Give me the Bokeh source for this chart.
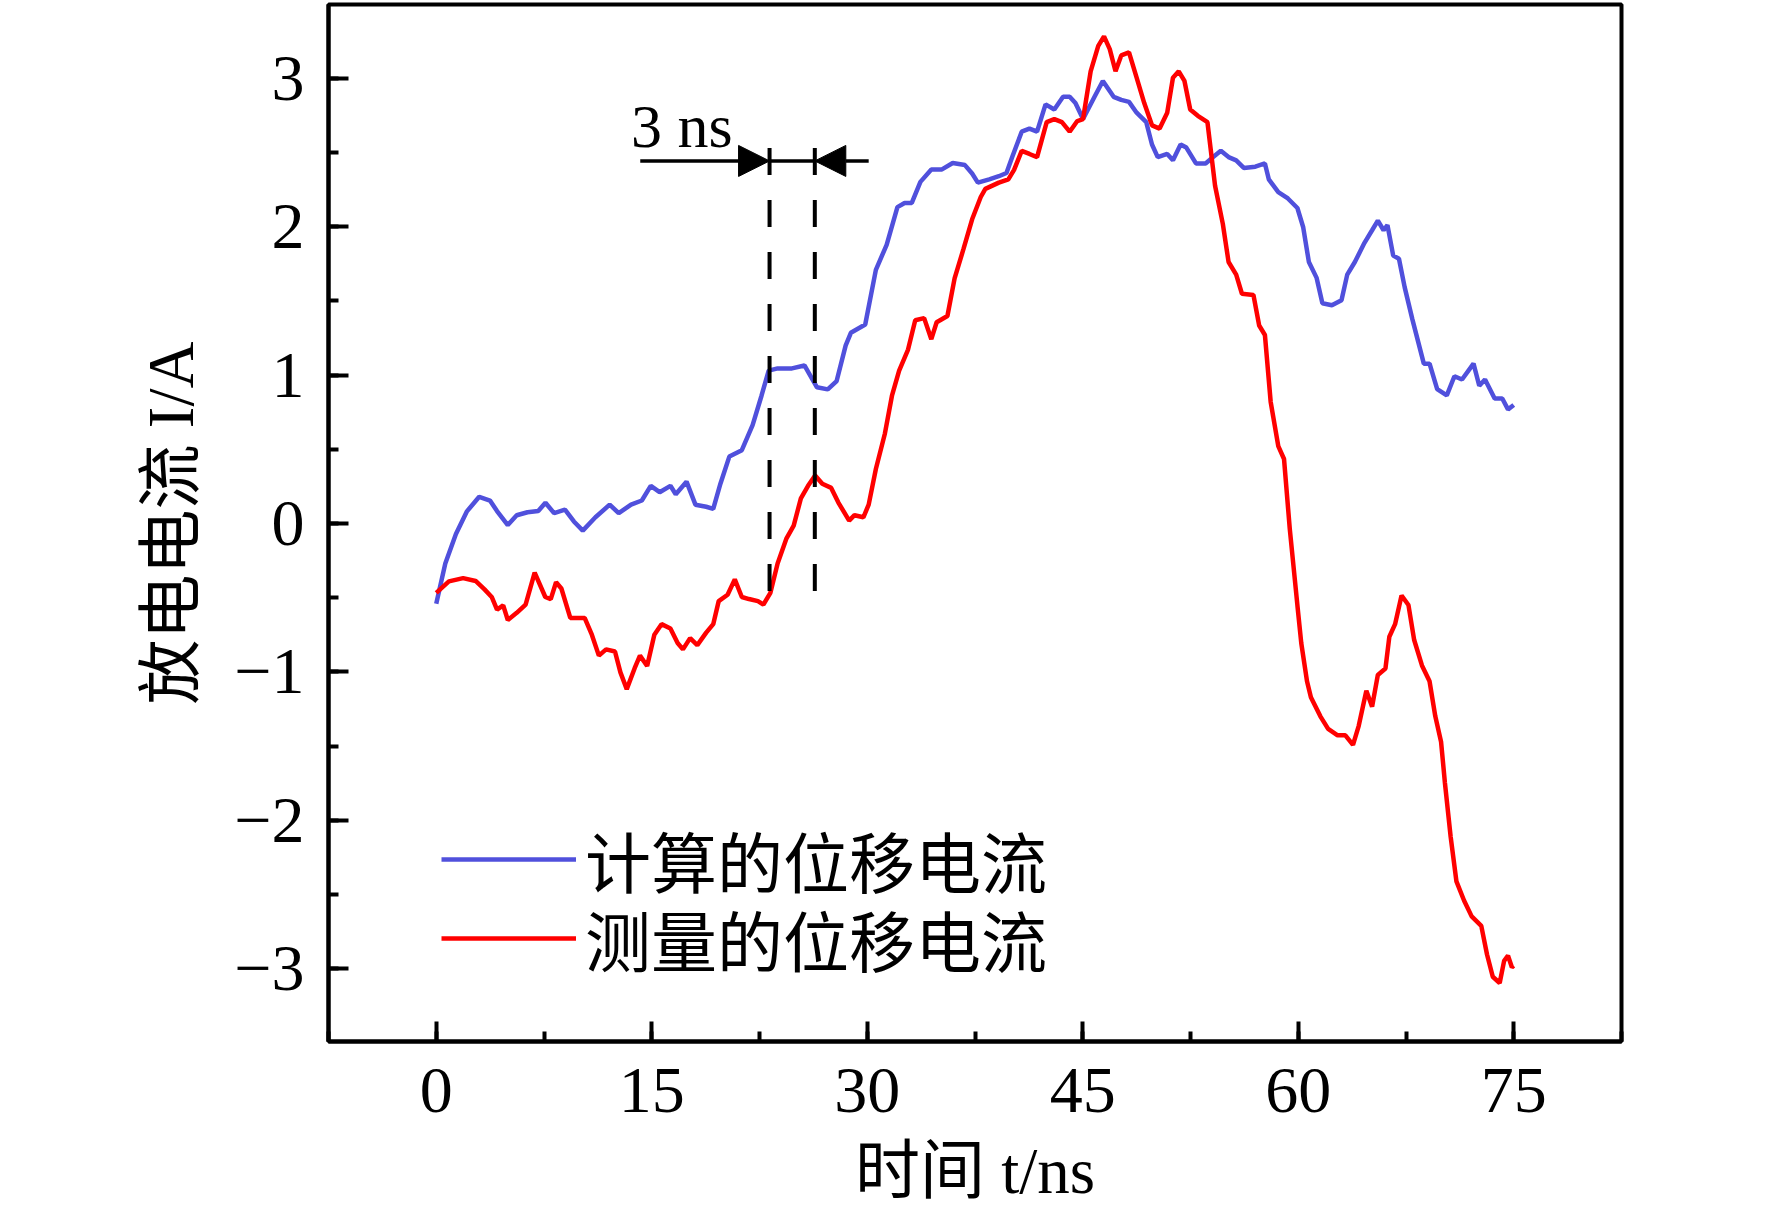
from bokeh.plotting import figure
from bokeh.models import (ColumnDataSource, Range1d, SingleIntervalTicker, Label,
                          Legend, LegendItem, Arrow, NormalHead)
from bokeh.embed import file_html
from bokeh.resources import INLINE

# ---------------- data ----------------
calc_t = [0, 0.63, 1.37, 2.12, 2.99, 3.74, 4.23, 4.98, 5.6, 6.35, 7.1, 7.6, 8.2, 8.96, 9.58,
          10.2, 11.08, 12.07, 12.7, 13.56, 14.31, 14.93, 15.55, 16.3, 16.67, 17.42, 18.04,
          18.79, 19.28, 19.78, 20.4, 21.27, 22.02, 22.64, 23.14, 23.76, 24.76, 25.63, 26.5,
          27.25, 27.87, 28.5, 28.86, 29.86, 30.6, 31.35, 32.1, 32.6, 33.1, 33.7, 34.46, 35.2,
          35.95, 36.8, 37.3, 37.7, 38.49, 39.16, 39.69, 40.09, 40.75, 41.29, 41.82, 42.41,
          43.02, 43.63, 44.09, 44.49, 45.02, 45.82, 46.4, 47.15, 47.68, 48.22, 48.75, 49.42,
          49.82, 50.22, 50.88, 51.28, 51.81, 52.21, 52.88, 53.55, 54.08, 54.61, 55.15, 55.68,
          56.21, 57.01, 57.68, 57.95, 58.61, 59.28, 59.94, 60.34, 60.74, 61.28, 61.68, 62.34,
          63.01, 63.41, 63.94, 64.61, 65.14, 65.54, 65.94, 66.21, 66.61, 67.01, 67.41, 67.94,
          68.34, 68.74, 69.14, 69.67, 70.34, 70.87, 71.4, 72.2, 72.6, 73.0, 73.67, 74.2,
          74.6, 75.0]
calc_i = [-0.54, -0.27, -0.07, 0.08, 0.18, 0.155, 0.084, -0.01, 0.056, 0.076, 0.084, 0.14,
          0.07, 0.093, 0.014, -0.048, 0.042, 0.127, 0.07, 0.127, 0.155, 0.254, 0.211, 0.254,
          0.197, 0.282, 0.127, 0.113, 0.099, 0.268, 0.451, 0.494, 0.663, 0.861, 1.03, 1.045,
          1.045, 1.065, 0.918, 0.904, 0.96, 1.2, 1.285, 1.341, 1.709, 1.878, 2.132, 2.16,
          2.16, 2.302, 2.386, 2.386, 2.429, 2.415, 2.358, 2.297, 2.319, 2.34, 2.362, 2.469,
          2.64, 2.661, 2.64, 2.824, 2.79, 2.875, 2.875, 2.833, 2.725, 2.875, 2.982, 2.875,
          2.854, 2.841, 2.768, 2.704, 2.554, 2.469, 2.49, 2.447, 2.554, 2.533, 2.426, 2.426,
          2.469, 2.511, 2.469, 2.447, 2.396, 2.404, 2.426, 2.319, 2.233, 2.19, 2.126, 1.998,
          1.762, 1.655, 1.484, 1.471, 1.505, 1.677, 1.762, 1.891, 1.976, 2.041, 1.976, 2.011,
          1.805, 1.784, 1.591, 1.377, 1.227, 1.077, 1.077, 0.906, 0.863, 0.992, 0.97, 1.077,
          0.928, 0.97, 0.842, 0.842, 0.769, 0.799]

meas_t = [0, 0.88, 1.87, 2.74, 3.36, 3.86, 4.23, 4.66, 4.98, 5.6, 6.22, 6.85, 7.59, 7.97,
          8.34, 8.71, 9.33, 9.83, 10.33, 10.83, 11.32, 11.82, 12.44, 12.82, 13.26, 13.81,
          14.18, 14.68, 15.18, 15.68, 16.3, 16.8, 17.17, 17.67, 18.17, 18.79, 19.28, 19.66,
          20.28, 20.78, 21.27, 21.77, 22.39, 22.77, 23.26, 23.76, 24.38, 24.88, 25.38, 25.88,
          26.37, 26.87, 27.49, 27.99, 28.74, 29.11, 29.73, 30.1, 30.6, 31.23, 31.72, 32.22,
          32.84, 33.34, 33.96, 34.46, 34.83, 35.58, 36.08, 36.7, 37.3, 37.9, 38.22, 39.16,
          39.82, 40.22, 40.75, 41.29, 41.82, 42.49, 43.02, 43.55, 44.09, 44.62, 45.02, 45.55,
          46.08, 46.48, 46.88, 47.28, 47.68, 48.22, 48.75, 49.28, 49.82, 50.35, 50.88, 51.28,
          51.68, 52.08, 52.48, 53.01, 53.68, 54.21, 54.75, 55.15, 55.68, 56.08, 56.88, 57.28,
          57.68, 58.08, 58.61, 59.01, 59.41, 59.94, 60.21, 60.61, 60.88, 61.54, 62.08, 62.74,
          63.28, 63.81, 64.21, 64.74, 65.14, 65.54, 66.07, 66.34, 66.74, 67.19, 67.67, 68.07,
          68.61, 69.14, 69.54, 69.94, 70.21, 70.61, 71.01, 71.54, 72.07, 72.74, 73.14, 73.54,
          74.02, 74.33, 74.6, 74.87, 75.0]
meas_i = [-0.467, -0.39, -0.368, -0.387, -0.444, -0.495, -0.58, -0.551, -0.65, -0.602,
          -0.546, -0.331, -0.495, -0.509, -0.396, -0.438, -0.636, -0.636, -0.636, -0.749,
          -0.89, -0.848, -0.862, -1.003, -1.116, -0.975, -0.89, -0.96, -0.749, -0.678, -0.707,
          -0.805, -0.848, -0.772, -0.819, -0.735, -0.678, -0.523, -0.48, -0.376, -0.495,
          -0.509, -0.523, -0.546, -0.467, -0.269, -0.1, -0.014, 0.169, 0.254, 0.324, 0.268,
          0.24, 0.141, 0.02, 0.056, 0.042, 0.127, 0.367, 0.607, 0.861, 1.03, 1.172, 1.37,
          1.384, 1.242, 1.356, 1.398, 1.652, 1.85, 2.05, 2.2, 2.255, 2.297, 2.319, 2.383,
          2.511, 2.49, 2.469, 2.704, 2.725, 2.704, 2.64, 2.712, 2.725, 3.047, 3.218, 3.282,
          3.196, 3.047, 3.154, 3.175, 3.004, 2.833, 2.683, 2.661, 2.768, 3.004, 3.047, 2.982,
          2.79, 2.747, 2.704, 2.276, 2.019, 1.762, 1.677, 1.548, 1.54, 1.334, 1.27, 0.82,
          0.521, 0.435, -0.036, -0.55, -0.806, -1.063, -1.17, -1.299, -1.384, -1.427, -1.427,
          -1.491, -1.363, -1.127, -1.234, -1.02, -0.977, -0.763, -0.678, -0.485, -0.549,
          -0.785, -0.956, -1.063, -1.299, -1.47, -1.748, -2.112, -2.411, -2.54, -2.647,
          -2.711, -2.904, -3.054, -3.096, -2.947, -2.912, -2.99, -2.98]

series_names = ["计算的位移电流", "测量的位移电流"]
x_title = "时间 t/ns"
y_title = "放电电流 I/A"
x_ticks = [0, 15, 30, 45, 60, 75]
y_ticks = [-3, -2, -1, 0, 1, 2, 3]

# annotation: 3 ns shift between the two dashed markers
shift_x = [23.2, 26.35]
shift_y_top = 2.53
shift_y_bottom = -0.47
arrow_y = 2.443
arrow_left_start = 14.2
arrow_right_start = 30.1
shift_text = "3 ns"
shift_text_pos = (13.55, 2.68)

# ---------------- figure ----------------
SERIF = "Liberation Serif"
CJK = "Noto Sans CJK SC"
MIXED = "Liberation Serif, Noto Sans CJK SC"
BLUE = "#5050dc"
RED = "#ff0000"

p = figure(width=1764, height=1209, output_backend="svg", toolbar_location=None,
           title=None, x_range=Range1d(-7.5, 82.5), y_range=Range1d(-3.49, 3.497),
           min_border_left=328, min_border_right=143, min_border_top=4,
           min_border_bottom=164)
p.background_fill_color = "white"
p.border_fill_color = "white"
p.xgrid.visible = False
p.ygrid.visible = False
p.outline_line_color = "black"
p.outline_line_width = 4
p.outline_line_alpha = 1.0

p.xaxis.ticker = SingleIntervalTicker(interval=15, num_minor_ticks=2)
p.yaxis.ticker = SingleIntervalTicker(interval=1, num_minor_ticks=2)
p.yaxis.major_label_overrides = {v: str(v).replace("-", "\u2212") for v in y_ticks}
for ax in (p.xaxis, p.yaxis):
    ax.axis_line_width = 4
    ax.axis_line_color = "black"
    ax.major_tick_in = 20
    ax.major_tick_out = 0
    ax.minor_tick_in = 10
    ax.minor_tick_out = 0
    ax.major_tick_line_width = 4
    ax.minor_tick_line_width = 4
    ax.major_tick_line_color = "black"
    ax.minor_tick_line_color = "black"
    ax.major_label_text_font = SERIF
    ax.major_label_text_font_size = "66px"
    ax.major_label_text_color = "black"
    ax.axis_label_text_font = MIXED
    ax.axis_label_text_font_size = "65px"
    ax.axis_label_text_font_style = "normal"
    ax.axis_label_text_color = "black"
p.xaxis.major_label_standoff = 27
p.yaxis.major_label_standoff = 24
p.xaxis.axis_label = x_title
p.yaxis.axis_label = y_title
p.xaxis.axis_label_standoff = 20
p.yaxis.axis_label_standoff = 24

src_c = ColumnDataSource(dict(t=calc_t, i=calc_i))
src_m = ColumnDataSource(dict(t=meas_t, i=meas_i))
r_c = p.line("t", "i", source=src_c, line_color=BLUE, line_width=4.5)
r_m = p.line("t", "i", source=src_m, line_color=RED, line_width=4.5)

# dashed markers
p.segment(x0=shift_x, y0=[shift_y_top] * 2, x1=shift_x, y1=[shift_y_bottom] * 2,
          line_color="black", line_width=4, line_dash="27 25")
p.segment(x0=[shift_x[0]], y0=[arrow_y], x1=[shift_x[1]], y1=[arrow_y],
          line_color="black", line_width=3.5)
p.add_layout(Arrow(end=NormalHead(size=31, fill_color="black", line_color="black"),
                   x_start=arrow_left_start, y_start=arrow_y, x_end=shift_x[0], y_end=arrow_y,
                   line_color="black", line_width=3.5))
p.add_layout(Arrow(end=NormalHead(size=31, fill_color="black", line_color="black"),
                   x_start=arrow_right_start, y_start=arrow_y, x_end=shift_x[1], y_end=arrow_y,
                   line_color="black", line_width=3.5))
p.add_layout(Label(x=shift_text_pos[0], y=shift_text_pos[1], text=shift_text,
                   text_font=SERIF, text_font_size="62px", text_color="black",
                   text_baseline="alphabetic", text_align="left"))

# legend: one entry per Legend so the row pitch can match the reference
legend_y = [134, 55]
for name, rend, ly in zip(series_names, [r_c, r_m], legend_y):
    lg = Legend(items=[LegendItem(label=name, renderers=[rend])],
                location=(113, ly), glyph_width=135, glyph_height=60, label_height=60,
                spacing=0, padding=0, margin=0, label_standoff=9,
                label_text_font=CJK, label_text_font_size="66px", label_text_color="black",
                border_line_color=None, background_fill_alpha=0)
    p.add_layout(lg)

open("out.html", "w").write(file_html(p, INLINE))
